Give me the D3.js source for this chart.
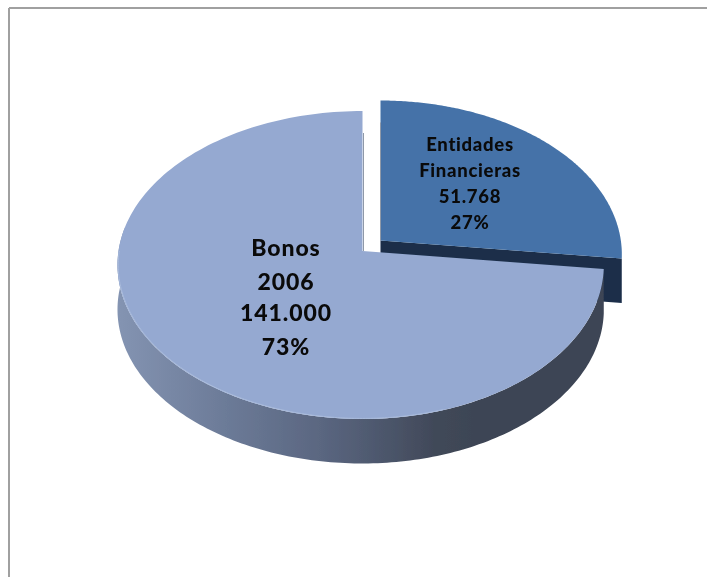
<!DOCTYPE html>
<html><head><meta charset="utf-8">
<script src="https://cdn.jsdelivr.net/npm/d3@7"></script>
<style>html,body{margin:0;padding:0;background:#fff}svg{display:block}</style>
</head><body><svg id="c" width="707" height="577"></svg>
<script>
const categories = ["Entidades Financieras", "Bonos 2006"];
const values = [51768, 141000];
const valueLabels = ["51.768", "141.000"];
const percentLabels = ["27%", "73%"];
const labelLines = [["Entidades","Financieras"],["Bonos","2006"]];

const svg = d3.select("#c");
const W = 707, H = 577;
const pivot = {x:362.5, y:251};
const offset = {x:18, y:-10.5};
const depth = 44.5;
const a = 152.7, b = 244, p = 0.0909, rightScale = 0.985;

function project(angle, r){
  const u = Math.sin(angle)*r, v = -Math.cos(angle)*r;
  const k = 1/(1 - p*v);
  return [b*u*k*(u>0?rightScale:1), a*v*k];
}
const pie = d3.pie().sort(null).startAngle(0).endAngle(2*Math.PI);
const arcs = pie(values);
const line = d3.line();
const samples = (a0,a1,n=180)=>d3.range(n+1).map(i=>a0+(a1-a0)*i/n);

const defs = svg.append("defs");
const grad = defs.append("linearGradient").attr("id","side").attr("gradientUnits","userSpaceOnUse")
  .attr("x1",117).attr("x2",605).attr("y1",0).attr("y2",0);
[[0,"#8494b2"],[0.22,"#6c7b98"],[0.42,"#5a6680"],[0.55,"#4c566b"],[0.65,"#414959"],[0.75,"#3c4454"],[1,"#3c4454"]]
  .forEach(([o,c])=>grad.append("stop").attr("offset",o).attr("stop-color",c));
defs.append("filter").attr("id","soft").append("feGaussianBlur").attr("stdDeviation",0.7);

// frame: top and left rules only
const frame = svg.append("g").attr("stroke","#a0a0a0").attr("stroke-width",2);
frame.append("line").attr("x1",9).attr("y1",8).attr("x2",W).attr("y2",8);
frame.append("line").attr("x1",9).attr("y1",8).attr("x2",9).attr("y2",H);

const pieG = svg.append("g").attr("filter","url(#soft)");
const fin = arcs[0], bon = arcs[1];

// financial slice
const gF = pieG.append("g").attr("transform",`translate(${pivot.x+offset.x},${pivot.y+offset.y})`);
const finEdge = project(fin.endAngle,1);
gF.append("path").attr("fill","#1b2f4a").attr("d",line([[0,0],finEdge,[finEdge[0],finEdge[1]+depth],[0,depth]])+"Z");
gF.append("path").attr("fill","#4472a8").attr("d",
  line([[0,0],...samples(fin.startAngle,fin.endAngle).map(t=>project(t,1))])+"Z");
gF.append("line").attr("x1",0).attr("x2",0).attr("y1",-118).attr("y2",0).attr("stroke","#8f99a8").attr("stroke-width",1);

// bonds slice
const gB = pieG.append("g").attr("transform",`translate(${pivot.x},${pivot.y})`);
const wallTop = samples(bon.startAngle,Math.PI*1.55).map(t=>project(t,1));
gB.append("path").attr("fill","url(#side)")
  .attr("transform",`translate(${-pivot.x},${-pivot.y})`)
  .attr("d",line([...wallTop.map(q=>[q[0]+pivot.x,q[1]+pivot.y]),...wallTop.slice().reverse().map(q=>[q[0]+pivot.x,q[1]+pivot.y+depth])])+"Z");
gB.append("path").attr("fill","#95a9d1").attr("d",
  line([[0,0],...samples(bon.startAngle,bon.endAngle).map(t=>project(t,1))])+"Z");
gB.append("path").attr("fill","none").attr("stroke","#a9bbdc").attr("stroke-width",1)
  .attr("d",line(samples(Math.PI*0.9,Math.PI*1.5).map(t=>project(t,0.997))));
gB.append("line").attr("x1",1).attr("x2",1).attr("y1",-118).attr("y2",0).attr("stroke","#8f99a8").attr("stroke-width",1);

// labels
const font = "Lato, Carlito, sans-serif";
function label(lines,cx,ys,size,track){
  svg.append("text").attr("font-family",font).attr("font-weight",900).attr("font-size",size)
    .attr("letter-spacing",track).attr("fill","#0a0a0a").attr("text-anchor","middle")
    .selectAll("tspan").data(lines).join("tspan")
    .attr("x",cx).attr("y",(d,i)=>ys[i]).attr("dy","0.35em").text(d=>d);
}
label([...labelLines[0],valueLabels[0],percentLabels[0]],470,[145,171,197,223],18.5,0.7);
label([...labelLines[1],valueLabels[1],percentLabels[1]],286,[248,282,313,347],23,0.9);
</script></body></html>
